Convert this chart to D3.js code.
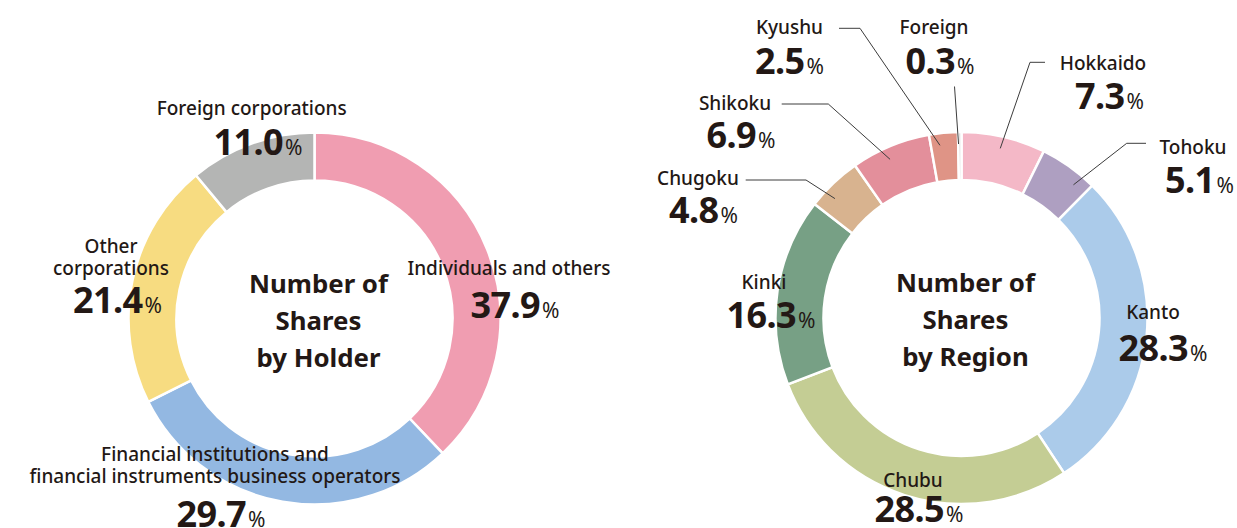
<!doctype html>
<html>
<head>
  <meta charset="utf-8">
  <title>Number of Shares</title>
  <style>
    body { margin: 0; background: #fff; }
    svg text { font-family: "Noto Sans", "Lato", sans-serif; fill: #231815; }
    .name { font-size: 19px; font-weight: 500; }
    .num { font-size: 36px; font-weight: 700; letter-spacing: -0.6px; }
    .pct { font-size: 21px; font-weight: 400; }
    .center { font-size: 25.8px; font-weight: 700; }
    .leader { fill: none; stroke: #3c3c3c; stroke-width: 1; }
  </style>
</head>
<body>
<svg width="1237" height="528"></svg>

<script src="https://d3js.org/d3.v7.min.js"></script>
<script>
  // shares by holder
  var holderNames = [ "Individuals and others", "Financial institutions and financial instruments business operators", "Other corporations", "Foreign corporations" ];
  var holderLines = [ ["Individuals and others"], ["Financial institutions and", "financial instruments business operators"], ["Other", "corporations"], ["Foreign corporations"] ];
  var holderValues = [ 37.9, 29.7, 21.4, 11.0 ];
  var holderColors = [ "#f09db1", "#93b8e2", "#f7dc81", "#b4b5b4" ];

  // shares by region
  var regionNames = [ "Hokkaido", "Tohoku", "Kanto", "Chubu", "Kinki", "Chugoku", "Shikoku", "Kyushu", "Foreign" ];
  var regionValues = [ 7.3, 5.1, 28.3, 28.5, 16.3, 4.8, 6.9, 2.5, 0.3 ];
  var regionColors = [ "#f4b8c7", "#ae9fc1", "#abcbea", "#c4cd94", "#77a085", "#d8b38f", "#e38f9b", "#df9486", "#d6d6d6" ];

  // label placement, relative to the donut centre: name baseline, value baseline
  var holderLayout = [
    { nx: 194.5, ny: -43.5, vx: 200.5, vy: -0.8 },
    { nx: -99.5, ny: 142.2, vx: -93.5, vy: 208.5 },
    { nx: -203.5, ny: -65.5, vx: -197, vy: -5.5 },
    { nx: -62.8, ny: -203.5, vx: -56.5, vy: -163.5 }
  ];
  var regionLayout = [
    { nx: 141.5, ny: -248, vx: 148, vy: -209, leader: [[83.5, -255.7], [68.5, -255.7]], at: 0.49 },
    { nx: 231.5, ny: -164, vx: 238, vy: -125.3, leader: [[184.5, -174.7], [165.2, -174.7]], at: 0.75 },
    { nx: 191.5, ny: 1.3, vx: 201.5, vy: 42.7 },
    { nx: -48.5, ny: 169.3, vx: -42.5, vy: 203.7 },
    { nx: -197.5, ny: -28.7, vx: -190.5, vy: 9.7 },
    { nx: -263.5, ny: -133, vx: -258, vy: -95.3, leader: [[-215.8, -138], [-155.5, -138]], at: 0.32 },
    { nx: -226.5, ny: -208, vx: -220.5, vy: -170.3, leader: [[-179.8, -214], [-133.2, -214]], at: 0.43 },
    { nx: -172, ny: -284, vx: -172, vy: -244, leader: [[-122.5, -289.7], [-101.5, -289.7]], at: 0.33 },
    { nx: -27.5, ny: -284, vx: -21.5, vy: -244, leader: [[-7, -231.5]], at: 0.1 }
  ];

  var OUTER = 186;
  var INNER = 138;

  function drawDonut(cx, cy, lines, values, colors, layout, title)
  {
    var svg = d3.select("svg");
    var g = svg.append("g").attr("transform", "translate(" + cx + "," + cy + ")");

    var pie = d3.pie().sort(null).value(function(d) { return d; });
    var arcs = pie(values);
    var arc = d3.arc().innerRadius(INNER).outerRadius(OUTER);

    g.selectAll("path")
      .data(arcs)
      .enter()
        .append("path")
          .attr("d", arc)
          .attr("fill", function(d, i) { return colors[i]; })
          .attr("stroke", "#fff")
          .attr("stroke-width", 2.5);

    // leader lines
    arcs.forEach(function(a, i) {
      var l = layout[i];
      if (!l.leader) return;
      var ang = a.startAngle + (a.endAngle - a.startAngle) * l.at;
      var r = 174;
      var pts = l.leader.concat([[Math.sin(ang) * r, -Math.cos(ang) * r]]);
      g.append("path")
        .attr("class", "leader")
        .attr("d", d3.line()(pts));
    });

    // names and values
    arcs.forEach(function(a, i) {
      var l = layout[i];
      var t = g.append("text")
        .attr("class", "name")
        .attr("text-anchor", "middle");
      lines[i].forEach(function(s, k) {
        t.append("tspan").attr("x", l.nx).attr("y", l.ny + k * 22).text(s);
      });
      var v = g.append("text")
        .attr("text-anchor", "middle")
        .attr("x", l.vx)
        .attr("y", l.vy);
      v.append("tspan").attr("class", "num").text(values[i].toFixed(1));
      v.append("tspan").attr("class", "pct").attr("dx", 2).text("%");
    });

    // centre title
    var c = g.append("text").attr("class", "center").attr("text-anchor", "middle");
    title.forEach(function(s, k) {
      c.append("tspan").attr("x", 4).attr("y", -26 + k * 37).text(s);
    });
  }

  drawDonut(314.5, 318.5, holderLines, holderValues, holderColors, holderLayout, ["Number of", "Shares", "by Holder"]);
  drawDonut(961.5, 318, regionNames.map(function(n) { return [n]; }), regionValues, regionColors, regionLayout, ["Number of", "Shares", "by Region"]);
</script>
</body>
</html>
